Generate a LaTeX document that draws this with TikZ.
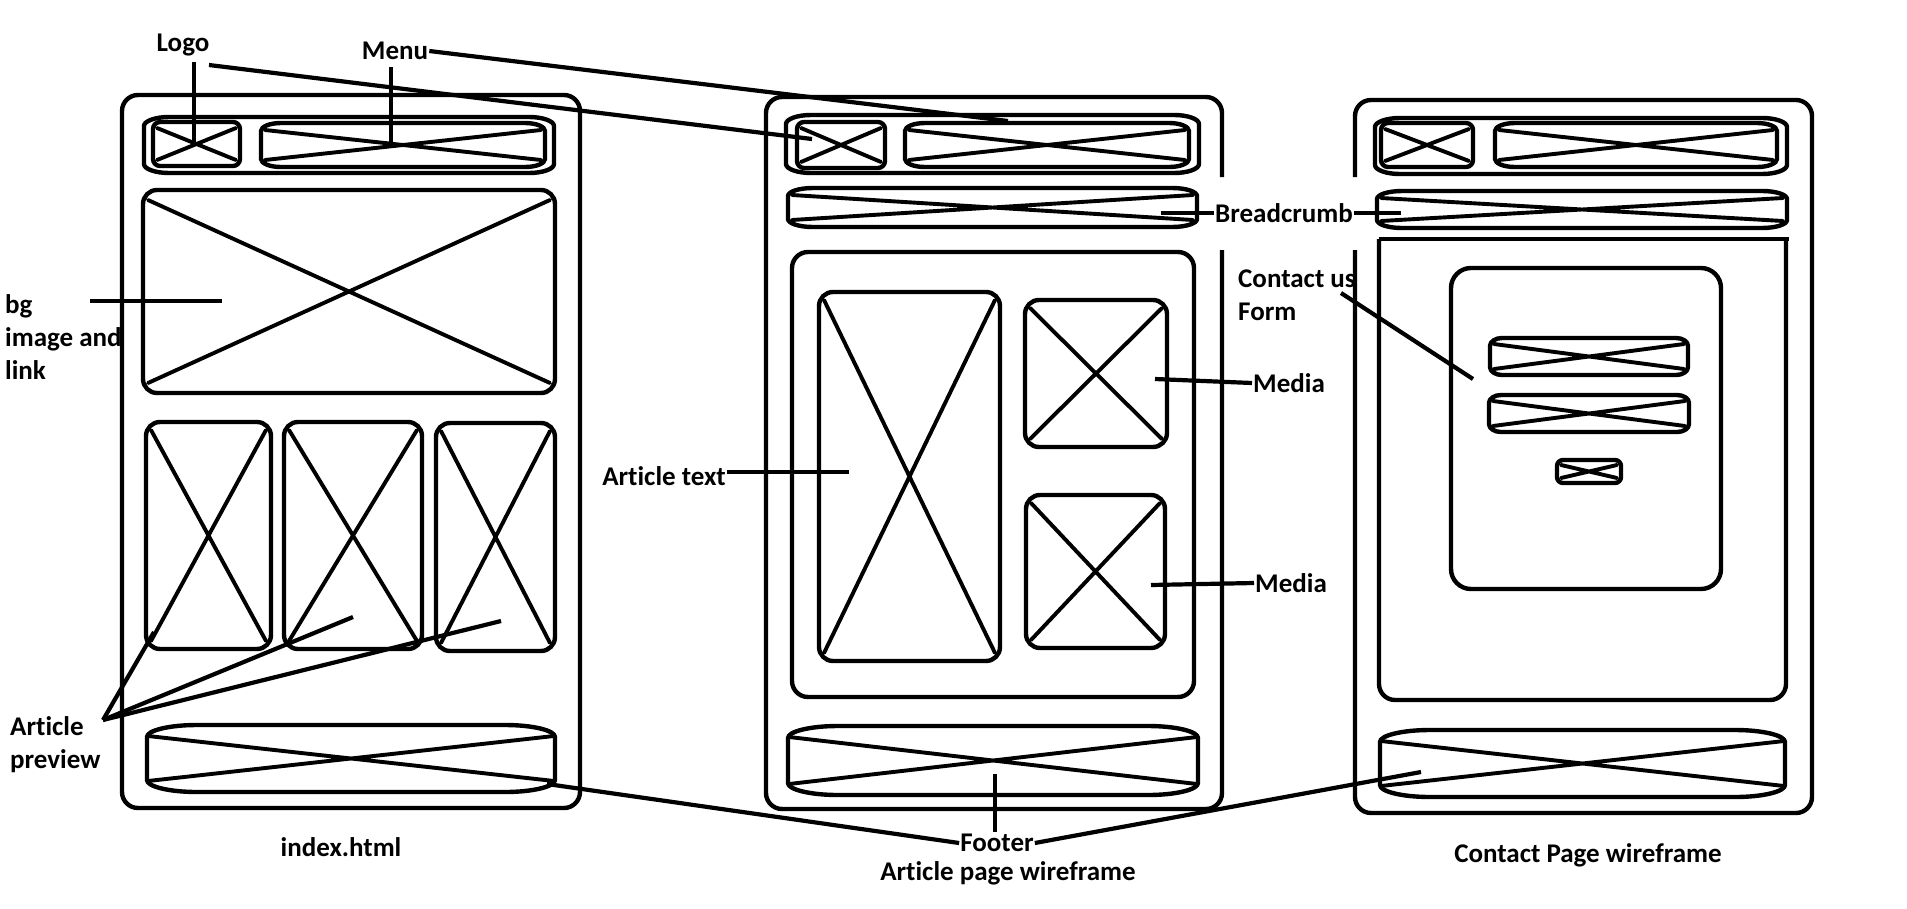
\documentclass[tikz,border=0pt]{standalone}
\usepackage{fontspec}
\setmainfont[Ligatures={NoCommon,NoContextual},Contextuals=NoAlternate]{Carlito}
\tikzset{
 wfline/.style={line width=4.4pt, line join=round},
 crossline/.style={line width=3.9pt, line cap=round},
 ptr/.style={line width=4.2pt},
 lbl/.style={font=\bfseries\fontsize{27}{33}\selectfont, inner sep=1pt},
}
% capsule / rounded box with elliptic corners: x1 y1 x2 y2 rx ry (pixel coords, y downwards)
\newcommand\wfcap[6]{%
  \draw[wfline] ({#1+#5},#2) -- ({#3-#5},#2)
     arc[start angle=90,end angle=0,x radius=#5pt,y radius=#6pt]
     -- (#3,{#4-#6})
     arc[start angle=0,end angle=-90,x radius=#5pt,y radius=#6pt]
     -- ({#1+#5},#4)
     arc[start angle=270,end angle=180,x radius=#5pt,y radius=#6pt]
     -- (#1,{#2+#6})
     arc[start angle=180,end angle=90,x radius=#5pt,y radius=#6pt] -- cycle;}
% cross: x1 y1 x2 y2 ix iy
\newcommand\wfcross[6]{%
  \draw[crossline] ({#1+#5},{#2+#6}) -- ({#3-#5},{#4-#6})
                   ({#1+#5},{#4-#6}) -- ({#3-#5},{#2+#6});}
\begin{document}
\begin{tikzpicture}[x=1pt,y=-1pt]
\useasboundingbox (0,0) rectangle (1907,908);
\fill[white] (0,0) rectangle (1907,908);

% ---------------- index.html ----------------
\draw[wfline, rounded corners=16] (122,95) rectangle (580,808);
\wfcap{144}{117}{554}{173}{25}{9}
\wfcap{153}{122}{240}{166}{7}{7}\wfcross{153}{122}{240}{166}{4}{6}
\wfcap{261}{123}{545}{167}{20}{8}\wfcross{261}{123}{545}{167}{4}{7}
\wfcap{143}{190}{555}{393}{14}{14}\wfcross{143}{190}{555}{393}{5}{10}
\wfcap{146}{422}{271}{649}{14}{14}\wfcross{146}{422}{271}{649}{5}{8}
\wfcap{284}{422}{422}{649}{14}{14}\wfcross{284}{422}{422}{649}{5}{8}
\wfcap{436}{423}{555}{651}{14}{14}\wfcross{436}{423}{555}{651}{5}{8}
\wfcap{147}{725}{555}{792}{50}{12}\wfcross{147}{725}{555}{792}{1}{11}

% ---------------- article page ----------------
\draw[wfline, rounded corners=16] (1222,177) -- (1222,97) -- (766,97) -- (766,809) -- (1222,809) -- (1222,250);
\wfcap{786}{115}{1199}{173}{25}{9}
\wfcap{797}{122}{885}{168}{7}{7}\wfcross{797}{122}{885}{168}{4}{6}
\wfcap{905}{123}{1189}{167}{20}{8}\wfcross{905}{123}{1189}{167}{4}{7}
\wfcap{788}{188}{1197}{227}{25}{8}\wfcross{788}{188}{1197}{227}{4}{7}
\wfcap{792}{252}{1194}{697}{16}{16}
\wfcap{819}{292}{1000}{661}{14}{14}\wfcross{819}{292}{1000}{661}{5}{8}
\wfcap{1025}{300}{1167}{447}{14}{14}\wfcross{1025}{300}{1167}{447}{5}{8}
\wfcap{1026}{495}{1165}{648}{14}{14}\wfcross{1026}{495}{1165}{648}{5}{8}
\wfcap{788}{726}{1198}{795}{50}{12}\wfcross{788}{726}{1198}{795}{1}{11}

% ---------------- contact page ----------------
\draw[wfline, rounded corners=16] (1355,177) -- (1355,100) -- (1812,100) -- (1812,813) -- (1355,813) -- (1355,250);
\wfcap{1375}{118}{1787}{174}{25}{9}
\wfcap{1381}{123}{1473}{167}{7}{7}\wfcross{1381}{123}{1473}{167}{4}{6}
\wfcap{1495}{123}{1777}{167}{20}{8}\wfcross{1495}{123}{1777}{167}{4}{7}
\wfcap{1377}{191}{1787}{228}{25}{8}\wfcross{1377}{191}{1787}{228}{4}{7}
\draw[wfline, rounded corners=16] (1379,239) -- (1379,700) -- (1786,700) -- (1786,239);
\draw[wfline] (1379,239) -- (1789,239);
\wfcap{1451}{268}{1721}{589}{20}{20}
\wfcap{1490}{338}{1688}{375}{12}{8}\wfcross{1490}{338}{1688}{375}{4}{6}
\wfcap{1489}{395}{1689}{432}{12}{8}\wfcross{1489}{395}{1689}{432}{4}{6}
\wfcap{1557}{460}{1621}{483}{6}{6}\wfcross{1557}{460}{1621}{483}{4}{5}
\wfcap{1380}{730}{1785}{797}{50}{12}\wfcross{1380}{730}{1785}{797}{1}{11}

% ---------------- labels ----------------
\node[lbl] (logo) at (183,45) {Logo};
\node[lbl] (menu) at (395,51) {Menu};
\node[lbl, align=left, anchor=north west] (bg) at (4,293) {bg\\image and\\link};
\node[lbl, align=left, anchor=north west] (prev) at (9,715) {Article\\preview};
\node[lbl] (idx) at (341,847) {index.html};
\node[lbl, anchor=east] (arttext) at (727,476) {Article text};
\node[lbl] (crumb) at (1284,213) {Breadcrumb};
\node[lbl, anchor=west] (media1) at (1252,383) {Media};
\node[lbl, anchor=west] (media2) at (1254,583) {Media};
\node[lbl, align=left, anchor=north west] (contact) at (1237,269) {Contact us\\Form};
\node[lbl] (footer) at (997,843) {Footer};
\node[lbl] (artpage) at (1008,873) {Article page wireframe};
\node[lbl] (contpage) at (1588,855) {Contact Page wireframe};

% ---------------- connector end points ----------------
\coordinate (logoTop) at (194,62);
\coordinate (logoBox1) at (194,143);
\coordinate (logoStart) at (209,65);
\coordinate (logoBox2) at (812,139);
\coordinate (menuTop) at (391,67);
\coordinate (menuBox1) at (391,143);
\coordinate (menuBox2) at (1008,121);
\coordinate (bgL) at (90,301);
\coordinate (bgR) at (222,301);
\coordinate (prevS) at (103,720);
\coordinate (prev1) at (154,632);
\coordinate (prev2) at (353,617);
\coordinate (prev3) at (501,621);
\coordinate (foot1) at (547,784);
\coordinate (foot2top) at (995,774);
\coordinate (foot2bot) at (995,832);
\coordinate (foot3) at (1421,772);
\coordinate (artS) at (727,472);
\coordinate (artE) at (849,472);
\coordinate (crumb2) at (1161,213);
\coordinate (crumb3) at (1401,213);
\coordinate (med1) at (1155,379);
\coordinate (med2) at (1151,585);
\coordinate (contS) at (1341,293);
\coordinate (contE) at (1473,379);

% ---------------- connectors ----------------
\draw[ptr] (logoTop) -- (logoBox1);
\draw[ptr] (logoStart) -- (logoBox2);
\draw[ptr] (menuTop) -- (menuBox1);
\draw[ptr] (menu.east) -- (menuBox2);
\draw[ptr] (bgL) -- (bgR);
\draw[ptr] (prevS) -- (prev1);
\draw[ptr] (prevS) -- (prev2);
\draw[ptr] (prevS) -- (prev3);
\draw[ptr] (artS) -- (artE);
\draw[ptr] (crumb2) -- (crumb.west);
\draw[ptr] (crumb.east) -- (crumb3);
\draw[ptr] (med1) -- (media1.west);
\draw[ptr] (med2) -- (media2.west);
\draw[ptr] (contS) -- (contE);
\draw[ptr] (foot1) -- (footer.west);
\draw[ptr] (foot2top) -- (foot2bot);
\draw[ptr] (footer.east) -- (foot3);
\end{tikzpicture}
\end{document}
